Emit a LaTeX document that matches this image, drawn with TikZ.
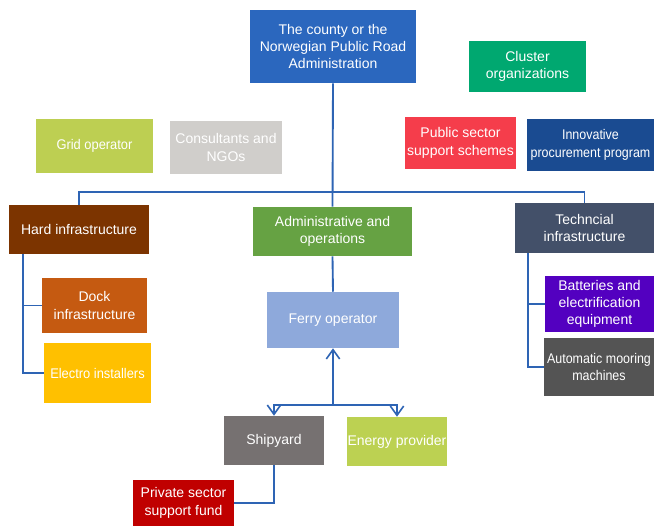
\documentclass[tikz,border=0pt]{standalone}
\usepackage{fontspec}
\setmainfont{Liberation Sans}
\usetikzlibrary{arrows.meta}
\definecolor{cCounty}{RGB}{43,103,190}
\definecolor{cCluster}{RGB}{0,168,112}
\definecolor{cGrid}{RGB}{189,207,82}
\definecolor{cConsult}{RGB}{208,206,203}
\definecolor{cPublic}{RGB}{245,61,75}
\definecolor{cInnov}{RGB}{26,75,145}
\definecolor{cHard}{RGB}{124,52,0}
\definecolor{cAdmin}{RGB}{102,162,67}
\definecolor{cTech}{RGB}{67,80,105}
\definecolor{cDock}{RGB}{197,90,17}
\definecolor{cElectro}{RGB}{255,192,0}
\definecolor{cFerry}{RGB}{142,169,219}
\definecolor{cBatt}{RGB}{83,0,192}
\definecolor{cAuto}{RGB}{84,84,84}
\definecolor{cShip}{RGB}{118,113,113}
\definecolor{cEnergy}{RGB}{188,209,82}
\definecolor{cPrivate}{RGB}{192,0,0}
\definecolor{cLine}{RGB}{46,100,180}
\newcommand\bx[7]{\node[box,fill=#6,minimum width={(#4-#2)*0.75pt},minimum height={(#5-#3)*0.75pt}] (#1) at ({(#2+#4)/2},{(#3+#5)/2}) {#7};}
\newcommand\narrowtxt{\addfontfeatures{FakeStretch=0.89}}
\newcommand\slimtxt{\addfontfeatures{FakeStretch=0.92}}
\tikzset{
  box/.style={rectangle,inner sep=0pt,align=center,text=white,font=\fontsize{10.5}{13}\selectfont},
  conn/.style={draw=cLine,line width=1.4pt},
  arr/.style={conn,-{Straight Barb[length=7pt,width=10pt,line width=1.2pt]}}
}
\begin{document}
\begin{tikzpicture}[x=0.75pt,y=-0.75pt]
\useasboundingbox (0,0) rectangle (654,526);
\fill[white] (0,0) rectangle (654,526);
\bx{county}{250}{10}{416}{83}{cCounty}{The county or the\\Norwegian Public Road\\Administration}
\bx{cluster}{469}{41}{586}{92}{cCluster}{Cluster\\organizations}
\bx{grid}{36}{119}{153}{173}{cGrid}{\slimtxt Grid operator}
\bx{consult}{170}{121}{282}{174}{cConsult}{Consultants and\\NGOs}
\bx{public}{405}{117}{516}{169}{cPublic}{Public sector\\support schemes}
\bx{innov}{527}{119}{654}{171}{cInnov}{\narrowtxt Innovative\\\narrowtxt procurement program}
\bx{hard}{9}{205}{149}{254}{cHard}{Hard infrastructure}
\bx{admin}{253}{207}{412}{256}{cAdmin}{Administrative and\\operations}
\bx{tech}{515}{203}{654}{253}{cTech}{Techncial\\infrastructure}
\bx{dock}{42}{278}{147}{333}{cDock}{Dock\\infrastructure}
\bx{electro}{44}{343}{151}{403}{cElectro}{\slimtxt Electro installers}
\bx{ferry}{267}{292}{399}{348}{cFerry}{Ferry operator}
\bx{batt}{545}{276}{654}{332}{cBatt}{Batteries and\\electrification\\equipment}
\bx{auto}{544}{338}{654}{396}{cAuto}{\narrowtxt Automatic mooring\\\narrowtxt machines}
\bx{ship}{224}{416}{324}{465}{cShip}{Shipyard}
\bx{energy}{347}{417}{447}{466}{cEnergy}{Energy provider}
\bx{private}{133}{480}{234}{526}{cPrivate}{Private sector\\support fund}
% tree from county
\coordinate (bus) at (333,192);
\draw[conn] (county.south) -- (admin.north);
\draw[conn] (hard.north) |- (bus) -| (tech.north);
% hard infrastructure branch
\coordinate (hs) at (23,254);
\draw[conn] (hs) |- (electro.west);
\draw[conn] (dock.west) -- (dock.west -| hs);
% technical branch
\coordinate (ts) at (528,253);
\draw[conn] (ts) |- (auto.west);
\draw[conn] (batt.west) -- (batt.west -| ts);
% administrative to ferry
\draw[conn] (admin.south) -- (ferry.north);
\coordinate (fj) at (333,405);
\draw[arr] (fj) -- (ferry.south);
\draw[arr] (fj) -| (ship.north);
\draw[arr] (fj) -| (energy.north);
\draw[conn] (ship.south) |- (private.east);
\end{tikzpicture}
\end{document}
